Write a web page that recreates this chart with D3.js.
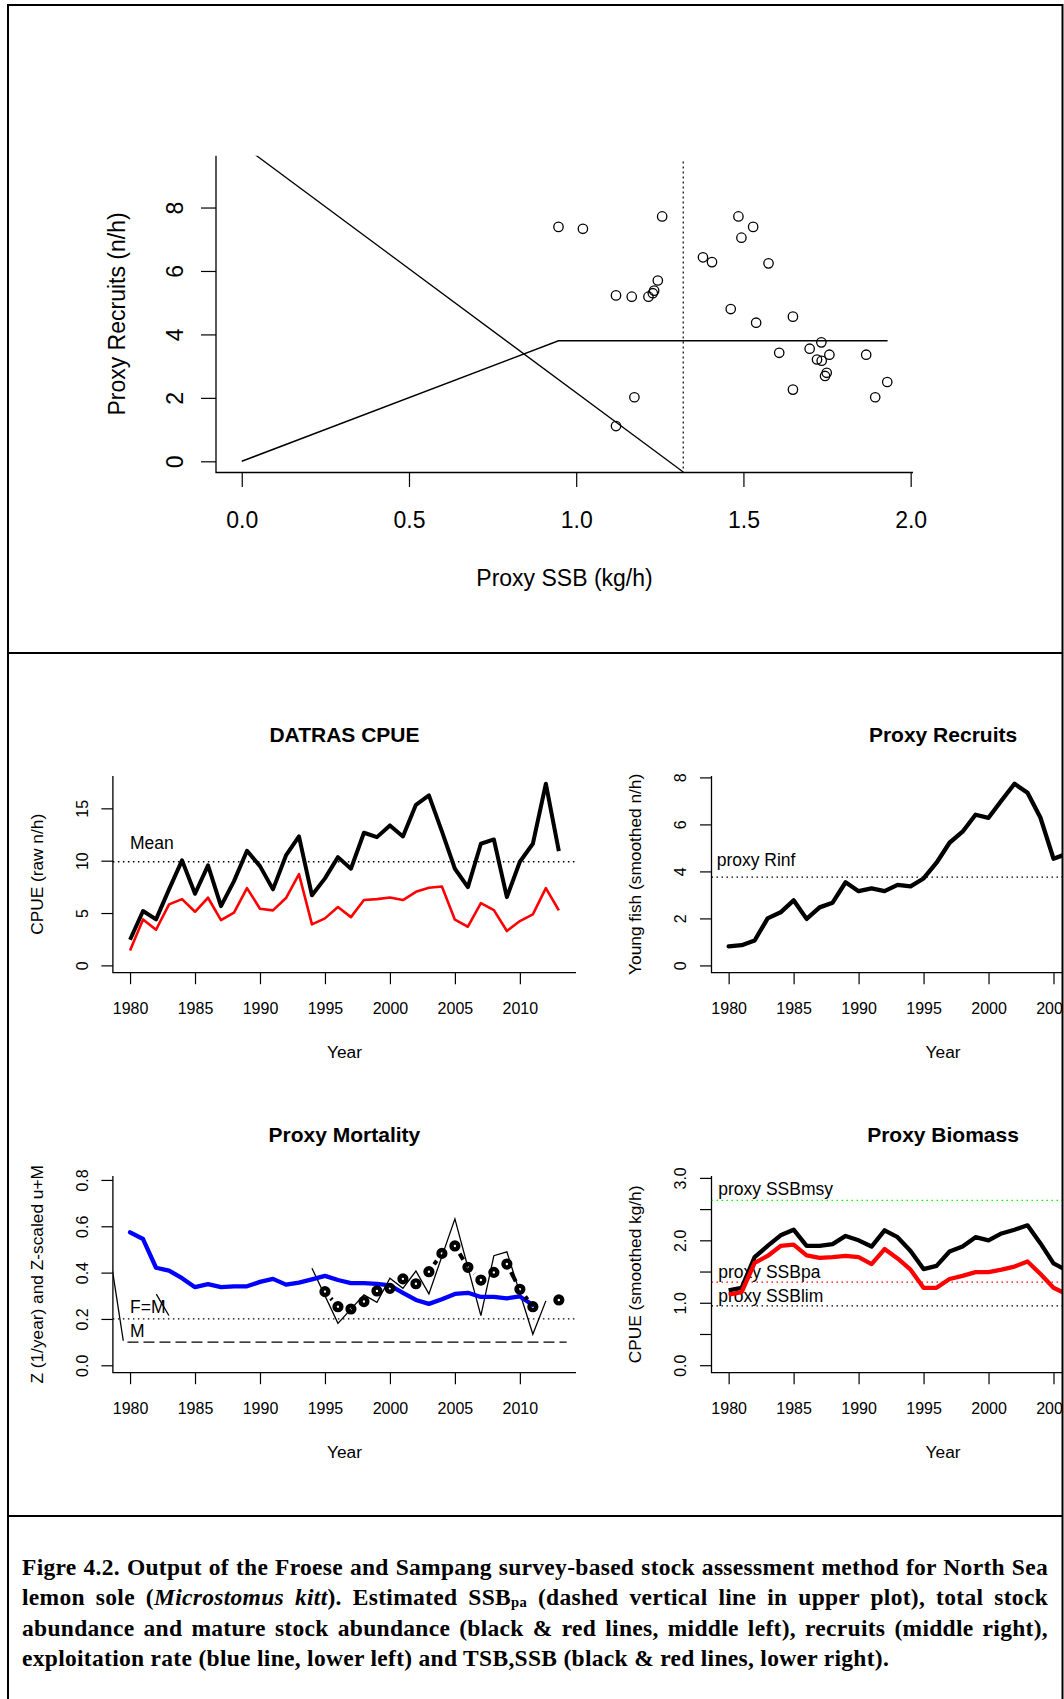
<!DOCTYPE html>
<html>
<head>
<meta charset="utf-8">
<script src="https://cdn.jsdelivr.net/npm/d3@7"></script>
<style>
  body { margin: 0; background: #fff; }
  #fig { position: relative; width: 1064px; height: 1699px; }
  #caption { position: absolute; left: 22px; top: 1552px; width: 1026px;
    font-family: "Liberation Serif", "Times New Roman", serif; font-weight: bold;
    font-size: 23.5px; letter-spacing: 0.3px; line-height: 30.4px; color: #000; }
  #caption div { height: 30.4px; }
  #caption .j { text-align: justify; text-align-last: justify; }
  #caption sub { font-size: 62%; line-height: 0; vertical-align: baseline; position: relative; top: 0.12em; }
</style>
</head>
<body>
<div id="fig"></div>
<script>
var W = 1064, H = 1699;
var FONT = "Liberation Sans, Arial, sans-serif";

// ---- upper plot: proxy SSB vs proxy recruits
var ssbPts = [0.947, 1.020, 1.257, 1.485, 1.529, 1.494, 1.379, 1.406, 1.575, 1.244, 1.233, 1.229, 1.216, 1.166, 1.119, 1.462,
              1.538, 1.648, 1.733, 1.698, 1.607, 1.757, 1.867, 1.720, 1.734, 1.749, 1.744, 1.930, 1.648, 1.894, 1.174, 1.119];
var recPts = [7.39, 7.33, 7.72, 7.72, 7.39, 7.05, 6.43, 6.28, 6.24, 5.70, 5.38, 5.30, 5.19, 5.19, 5.23, 4.80,
              4.37, 4.56, 3.75, 3.55, 3.42, 3.36, 3.36, 3.21, 3.17, 2.79, 2.69, 2.50, 2.26, 2.02, 2.02, 1.11];
var hockeyX = [0, 0.947, 1.931], hockeyY = [0, 3.80, 3.80];
var diagX = [0, 1.32], diagY = [9.98, -0.34];
var ssbPa = 1.32, paTop = 9.45, paBottom = -0.33;
var ssbTicks = [0, 0.5, 1.0, 1.5, 2.0];
var recTicks = [0, 2, 4, 6, 8];

// ---- time series
var years = [1980, 1981, 1982, 1983, 1984, 1985, 1986, 1987, 1988, 1989, 1990, 1991, 1992, 1993, 1994, 1995, 1996,
             1997, 1998, 1999, 2000, 2001, 2002, 2003, 2004, 2005, 2006, 2007, 2008, 2009, 2010, 2011, 2012, 2013];
var yearTicks = [1980, 1985, 1990, 1995, 2000, 2005, 2010];

var cpueTotal = [2.45, 5.19, 4.39, 7.26, 10.03, 6.84, 9.55, 5.66, 8.05, 10.95, 9.48, 7.26, 10.5, 12.32, 6.69, 8.31, 10.34,
                 9.23, 12.67, 12.25, 13.37, 12.32, 15.34, 16.24, 12.8, 9.23, 7.48, 11.62, 12.03, 6.52, 9.9, 11.62, 17.35, 10.92];
var cpueMature = [1.43, 4.39, 3.40, 5.83, 6.33, 5.12, 6.46, 4.33, 5.03, 7.38, 5.41, 5.25, 6.43, 8.72, 3.91, 4.49, 5.57,
                  4.61, 6.24, 6.33, 6.49, 6.24, 7.03, 7.41, 7.54, 4.36, 3.69, 5.95, 5.28, 3.28, 4.23, 4.87, 7.38, 5.25];
var cpueMean = 9.9;

var recYears = [1980, 1981, 1982, 1983, 1984, 1985, 1986, 1987, 1988, 1989, 1990, 1991, 1992, 1993,
                1994, 1995, 1996, 1997, 1998, 1999, 2000, 2001, 2002, 2003, 2004, 2005, 2006];
var recruits = [0.81, 0.86, 1.06, 2.0, 2.26, 2.77, 1.98, 2.47, 2.67, 3.54, 3.16, 3.28, 3.16, 3.43,
                3.36, 3.70, 4.37, 5.22, 5.69, 6.41, 6.28, 7.02, 7.73, 7.35, 6.28, 4.54, 4.74];
var rInf = 3.76;

var zYears = [1980, 1981, 1982, 1983, 1984, 1985, 1986, 1987, 1988, 1989, 1990, 1991, 1992, 1993, 1994, 1995,
              1996, 1997, 1998, 1999, 2000, 2001, 2002, 2003, 2004, 2005, 2006, 2007, 2008, 2009, 2010, 2011];
var zSmooth = [0.574, 0.545, 0.421, 0.409, 0.376, 0.337, 0.350, 0.337, 0.341, 0.341, 0.360, 0.373, 0.348, 0.357, 0.371, 0.386,
               0.368, 0.355, 0.355, 0.351, 0.345, 0.313, 0.282, 0.265, 0.285, 0.308, 0.313, 0.295, 0.295, 0.289, 0.297, 0.260];
var zRawYears = [1994, 1996, 1998, 1999, 2000, 2001, 2002, 2003, 2005, 2007, 2008, 2009, 2011, 2012];
var zRaw = [0.419, 0.181, 0.304, 0.272, 0.376, 0.332, 0.407, 0.308, 0.632, 0.214, 0.473, 0.490, 0.134, 0.278];
var zSegAX = [1978.4, 1979.48], zSegAY = [0.499, 0.106];
var zSegBX = [1982.02, 1982.99], zSegBY = [0.307, 0.215];
var uYears = [1995, 1996, 1997, 1998, 1999, 2000, 2001, 2002, 2003, 2004, 2005, 2006, 2007, 2008, 2009, 2010, 2011, 2013];
var uPlusM = [0.318, 0.253, 0.243, 0.275, 0.321, 0.332, 0.373, 0.352, 0.404, 0.483, 0.515, 0.423, 0.368, 0.401, 0.437, 0.328, 0.253, 0.282];
var fEqM = 0.2, natM = 0.1, mFrom = 1979.8, mTo = 2013.6;

var tsb = [1.20, 1.24, 1.73, 1.91, 2.08, 2.17, 1.91, 1.91, 1.94, 2.07, 2.00, 1.90, 2.16, 2.05,
           1.83, 1.54, 1.59, 1.82, 1.90, 2.05, 2.00, 2.11, 2.17, 2.24, 1.95, 1.63, 1.52];
var ssb = [1.13, 1.17, 1.64, 1.75, 1.91, 1.93, 1.76, 1.72, 1.73, 1.75, 1.73, 1.62, 1.86, 1.71,
           1.53, 1.24, 1.24, 1.38, 1.43, 1.49, 1.49, 1.53, 1.58, 1.66, 1.46, 1.24, 1.14];
var bMsy = 2.64, bPa = 1.33, bLim = 0.95;

// ---- svg
var svg = d3.select("#fig").append("svg")
    .attr("width", W).attr("height", H)
    .style("position", "absolute").style("left", "0px").style("top", "0px");
var defs = svg.append("defs");

function styleAxis(a, size) {
  a.select(".domain").remove();
  a.attr("font-size", size).attr("font-family", FONT);
  a.selectAll("line").attr("stroke", "#000").attr("stroke-width", 1.2);
  a.selectAll("text").attr("fill", "#000");
}

// ================= upper plot =================
var up = svg.append("g");
var x0 = d3.scaleLinear().domain([-0.077, 2.007]).range([216, 913]);
var y0 = d3.scaleLinear().domain([-0.353, 9.634]).range([472.5, 155.7]);
defs.append("clipPath").attr("id", "clipUp").append("rect")
    .attr("x", 216).attr("y", 155.7).attr("width", 697).attr("height", 316.8);

up.append("path").attr("d", "M216,155.7V472.5H913")
    .attr("fill", "none").attr("stroke", "#000").attr("stroke-width", 1.3);

var ax0 = up.append("g").attr("transform", "translate(0,472.5)")
    .call(d3.axisBottom(x0).tickValues(ssbTicks).tickFormat(d3.format(".1f")).tickSize(14.5).tickSizeOuter(0));
styleAxis(ax0, 23);
ax0.selectAll("text").attr("y", 55.8).attr("dy", null);

var ay0 = up.append("g").attr("transform", "translate(216,0)")
    .call(d3.axisLeft(y0).tickValues(recTicks).tickFormat(d3.format("d")).tickSize(15).tickSizeOuter(0));
styleAxis(ay0, 23);
ay0.selectAll("text").attr("transform", "rotate(-90)").attr("x", 0).attr("y", -33.5)
    .attr("dy", null).attr("text-anchor", "middle");

var upData = up.append("g").attr("clip-path", "url(#clipUp)");
upData.append("path")
    .attr("d", d3.line().x(function(d, i) { return x0(diagX[i]); }).y(function(d, i) { return y0(diagY[i]); })(diagX))
    .attr("fill", "none").attr("stroke", "#000").attr("stroke-width", 1.3);
upData.append("path")
    .attr("d", d3.line().x(function(d, i) { return x0(hockeyX[i]); }).y(function(d, i) { return y0(hockeyY[i]); })(hockeyX))
    .attr("fill", "none").attr("stroke", "#000").attr("stroke-width", 1.5);
upData.append("line")
    .attr("x1", x0(ssbPa)).attr("x2", x0(ssbPa)).attr("y1", y0(paTop)).attr("y2", y0(paBottom))
    .attr("stroke", "#000").attr("stroke-width", 1.2).attr("stroke-dasharray", "2,3");
upData.selectAll("circle").data(ssbPts).enter().append("circle")
    .attr("cx", function(d) { return x0(d); })
    .attr("cy", function(d, i) { return y0(recPts[i]); })
    .attr("r", 4.7).attr("fill", "none").attr("stroke", "#000").attr("stroke-width", 1.3);

up.append("text").attr("x", 564.5).attr("y", 586).attr("text-anchor", "middle")
    .attr("font-family", FONT).attr("font-size", 23).text("Proxy SSB (kg/h)");
up.append("text").attr("transform", "translate(125,314) rotate(-90)").attr("text-anchor", "middle")
    .attr("font-family", FONT).attr("font-size", 23).text("Proxy Recruits (n/h)");

// ================= four small panels =================
defs.append("clipPath").attr("id", "clipMid").append("rect")
    .attr("x", 9).attr("y", 654).attr("width", 1053).attr("height", 861);
var mid = svg.append("g").attr("clip-path", "url(#clipMid)");
var clipCount = 0;

function panel(left, top, yDom, yTickVals, yFmt, title, ylab) {
  var w = 463.1, h = 196.7;
  var g = mid.append("g").attr("transform", "translate(" + left + "," + top + ")");
  var x = d3.scaleLinear().domain([1978.68, 2014.32]).range([0, w]);
  var y = d3.scaleLinear().domain(yDom).range([h, 0]);
  var id = "clipP" + (clipCount++);
  defs.append("clipPath").attr("id", id).append("rect")
      .attr("x", left).attr("y", top).attr("width", w).attr("height", h);

  g.append("path").attr("d", "M0,0V" + h + "H" + w)
      .attr("fill", "none").attr("stroke", "#000").attr("stroke-width", 1.3);

  var xa = g.append("g").attr("transform", "translate(0," + h + ")")
      .call(d3.axisBottom(x).tickValues(yearTicks).tickFormat(d3.format("d")).tickSize(11.5).tickSizeOuter(0));
  styleAxis(xa, 16);
  xa.selectAll("text").attr("y", 41.3).attr("dy", null);

  var ya = g.append("g")
      .call(d3.axisLeft(y).tickValues(yTickVals).tickFormat(yFmt).tickSize(11.5).tickSizeOuter(0));
  styleAxis(ya, 16);
  ya.selectAll("text").attr("transform", "rotate(-90)").attr("x", 0).attr("y", -25.4)
      .attr("dy", null).attr("text-anchor", "middle");

  g.append("text").attr("x", w / 2).attr("y", -34).attr("text-anchor", "middle")
      .attr("font-family", FONT).attr("font-size", 21).attr("font-weight", "bold").text(title);
  g.append("text").attr("x", w / 2).attr("y", 282).attr("text-anchor", "middle")
      .attr("font-family", FONT).attr("font-size", 17.3).text("Year");
  g.append("text").attr("transform", "translate(-70.4," + (h / 2) + ") rotate(-90)").attr("text-anchor", "middle")
      .attr("font-family", FONT).attr("font-size", 17.3).text(ylab);

  // data layer sits in page coordinates so the clip rect matches
  var data = mid.append("g").attr("clip-path", "url(#" + id + ")")
      .append("g").attr("transform", "translate(" + left + "," + top + ")");
  return {g: g, data: data, x: x, y: y, w: w, h: h};
}

function series(p, xs, ys) {
  return d3.line().x(function(d, i) { return p.x(xs[i]); }).y(function(d, i) { return p.y(ys[i]); })(xs);
}
function refLine(p, v, color, dash) {
  p.data.append("line").attr("x1", 0).attr("x2", p.w).attr("y1", p.y(v)).attr("y2", p.y(v))
      .attr("stroke", color).attr("stroke-width", 1.3).attr("stroke-dasharray", dash);
}
function label(p, xv, yv, txt) {
  p.g.append("text").attr("x", p.x(xv)).attr("y", p.y(yv)).attr("font-family", FONT)
      .attr("font-size", 17.5).text(txt);
}

// DATRAS CPUE
var pA = panel(112.9, 776, [-0.70, 18.09], [0, 5, 10, 15], d3.format("d"), "DATRAS CPUE", "CPUE  (raw n/h)");
refLine(pA, cpueMean, "#000", "1.5,3.5");
pA.data.append("path").attr("d", series(pA, years, cpueTotal))
    .attr("fill", "none").attr("stroke", "#000").attr("stroke-width", 4).attr("stroke-linejoin", "round");
pA.data.append("path").attr("d", series(pA, years, cpueMature))
    .attr("fill", "none").attr("stroke", "#ff0000").attr("stroke-width", 2.6).attr("stroke-linejoin", "round");
label(pA, 1980, 11.1, "Mean");

// Proxy Recruits
var pB = panel(711.5, 776, [-0.31, 8.06], [0, 2, 4, 6, 8], d3.format("d"), "Proxy Recruits", "Young fish (smoothed n/h)");
refLine(pB, rInf, "#000", "1.5,3.5");
pB.data.append("path").attr("d", series(pB, recYears, recruits))
    .attr("fill", "none").attr("stroke", "#000").attr("stroke-width", 4.3)
    .attr("stroke-linejoin", "round").attr("stroke-linecap", "round");
label(pB, 1979.08, 4.25, "proxy Rinf");

// Proxy Mortality
var pC = panel(112.9, 1176, [-0.032, 0.817], [0, 0.2, 0.4, 0.6, 0.8], d3.format(".1f"), "Proxy Mortality", "Z (1/year) and Z-scaled u+M");
refLine(pC, fEqM, "#000", "1.5,3.5");
pC.data.append("line").attr("x1", pC.x(mFrom)).attr("x2", pC.x(mTo)).attr("y1", pC.y(natM)).attr("y2", pC.y(natM))
    .attr("stroke", "#000").attr("stroke-width", 1.3).attr("stroke-dasharray", "11,5");
[[zSegAX, zSegAY], [zSegBX, zSegBY], [zRawYears, zRaw]].forEach(function(s) {
  pC.data.append("path").attr("d", series(pC, s[0], s[1]))
      .attr("fill", "none").attr("stroke", "#000").attr("stroke-width", 1.3);
});
pC.data.append("path").attr("d", series(pC, zYears, zSmooth))
    .attr("fill", "none").attr("stroke", "#0000ff").attr("stroke-width", 4.3)
    .attr("stroke-linejoin", "round").attr("stroke-linecap", "round");
// type = "b": dashed pieces between the u+M points, leaving gaps round them
for (var i = 1; i < uYears.length; i++) {
  if (uYears[i] - uYears[i - 1] > 1) continue;
  var ax = pC.x(uYears[i - 1]), ay = pC.y(uPlusM[i - 1]), bx = pC.x(uYears[i]), by = pC.y(uPlusM[i]);
  var len = Math.hypot(bx - ax, by - ay), gap = 9;
  if (len <= 2 * gap) continue;
  var ux = (bx - ax) / len, uy = (by - ay) / len;
  pC.data.append("line").attr("x1", ax + ux * gap).attr("y1", ay + uy * gap)
      .attr("x2", bx - ux * gap).attr("y2", by - uy * gap)
      .attr("stroke", "#000").attr("stroke-width", 4).attr("stroke-dasharray", "12,6");
}
pC.data.selectAll("circle.u").data(uYears).enter().append("circle")
    .attr("cx", function(d) { return pC.x(d); })
    .attr("cy", function(d, i) { return pC.y(uPlusM[i]); })
    .attr("r", 3.4).attr("fill", "none").attr("stroke", "#000").attr("stroke-width", 4.4);
label(pC, 1980, 0.225, "F=M");
label(pC, 1980, 0.123, "M");

// Proxy Biomass
var pD = panel(711.5, 1176, [-0.12, 3.03], [0, 0.5, 1, 1.5, 2, 2.5, 3],
    function(d) { return d % 1 === 0 ? d.toFixed(1) : ""; }, "Proxy Biomass", "CPUE (smoothed kg/h)");
refLine(pD, bMsy, "#00ff00", "1.5,3.5");
refLine(pD, bPa, "#ff0000", "1.5,3.5");
refLine(pD, bLim, "#000", "1.5,3.5");
pD.data.append("path").attr("d", series(pD, recYears, tsb))
    .attr("fill", "none").attr("stroke", "#000").attr("stroke-width", 4.3).attr("stroke-linejoin", "round");
pD.data.append("path").attr("d", series(pD, recYears, ssb))
    .attr("fill", "none").attr("stroke", "#ff0000").attr("stroke-width", 4.3).attr("stroke-linejoin", "round");
label(pD, 1979.2, 2.72, "proxy SSBmsy");
label(pD, 1979.2, 1.40, "proxy SSBpa");
label(pD, 1979.2, 1.01, "proxy SSBlim");

// ================= frame =================
var frame = svg.append("g").attr("fill", "none").attr("stroke", "#000").attr("stroke-width", 2);
frame.append("rect").attr("x", 8).attr("y", 5).attr("width", 1054.5).attr("height", 1700);
frame.append("line").attr("x1", 8).attr("x2", 1062.5).attr("y1", 653).attr("y2", 653);
frame.append("line").attr("x1", 8).attr("x2", 1062.5).attr("y1", 1516).attr("y2", 1516);

// ================= caption =================
var cap = d3.select("#fig").append("div").attr("id", "caption");
cap.append("div").attr("class", "j")
    .text("Figre 4.2. Output of the Froese and Sampang survey-based stock assessment method for North Sea");
cap.append("div").attr("class", "j")
    .html("lemon sole (<i>Microstomus kitt</i>). Estimated SSB<sub>pa</sub> (dashed vertical line in upper plot), total stock");
cap.append("div").attr("class", "j")
    .text("abundance and mature stock abundance (black & red lines, middle left), recruits (middle right),");
cap.append("div")
    .text("exploitation rate (blue line, lower left) and TSB,SSB (black & red lines, lower right).");
</script>
</body>
</html>
